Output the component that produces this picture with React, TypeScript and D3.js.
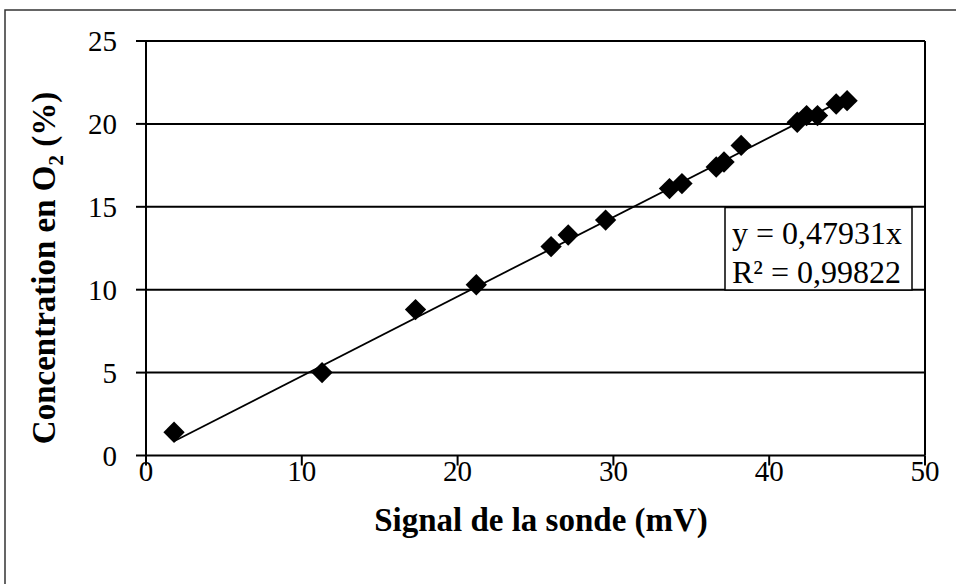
import React from "react";
import * as d3 from "d3";

const signal = [1.8, 11.3, 17.3, 21.2, 26.0, 27.1, 29.5, 33.6, 34.4, 36.6, 37.1, 38.2, 41.8, 42.4, 43.1, 44.3, 45.0];
const oxygen = [1.4, 5.0, 8.8, 10.3, 12.6, 13.3, 14.2, 16.1, 16.4, 17.4, 17.7, 18.7, 20.1, 20.5, 20.5, 21.2, 21.4];
const xTicks = [0, 10, 20, 30, 40, 50];
const yTicks = [0, 5, 10, 15, 20, 25];
const slope = 0.47931;
const eqLines = ["y = 0,47931x", "R² = 0,99822"];

export default function App() {
  const W = 956, H = 584;
  const x = d3.scaleLinear().domain([0, 50]).range([146, 925]);
  const y = d3.scaleLinear().domain([0, 25]).range([455.5, 41]);
  const font = "'Liberation Serif', 'Times New Roman', serif";
  const xmin = d3.min(signal) as number;
  const xmax = d3.max(signal) as number;
  const line = d3.line<number>().x((d) => x(d)).y((d) => y(slope * d));
  const diamond = d3.symbol().type(d3.symbolDiamond2).size(290)();
  return (
    <svg width={W} height={H} style={{ position: "absolute", left: 0, top: 0, background: "#fff" }}>
      <rect x={0} y={0} width={W} height={H} fill="#fff" />
      <rect x={5} y={10} width={1200} height={1200} fill="none" stroke="#333" strokeWidth={1.5} />
      {yTicks.filter((t) => t > 0).map((t) => (
        <line key={"g" + t} x1={x(0)} x2={x(50)} y1={y(t)} y2={y(t)} stroke="#000" strokeWidth={2} />
      ))}
      <line x1={x(50)} x2={x(50)} y1={y(25)} y2={y(0)} stroke="#000" strokeWidth={2} />
      <line x1={x(0)} x2={x(0)} y1={y(25)} y2={y(0)} stroke="#000" strokeWidth={2} />
      <line x1={x(0)} x2={x(50)} y1={y(0)} y2={y(0)} stroke="#000" strokeWidth={2} />
      {yTicks.map((t) => (
        <g key={"yt" + t}>
          <line x1={x(0) - 10} x2={x(0)} y1={y(t)} y2={y(t)} stroke="#000" strokeWidth={2} />
          <text x={117} y={y(t) + 10} textAnchor="end" fontFamily={font} fontSize={29} fill="#000">{t}</text>
        </g>
      ))}
      {xTicks.map((t) => (
        <g key={"xt" + t}>
          <line x1={x(t)} x2={x(t)} y1={y(0)} y2={y(0) + 10} stroke="#000" strokeWidth={2} />
          <text x={x(t)} y={481} textAnchor="middle" fontFamily={font} fontSize={29} fill="#000">{t}</text>
        </g>
      ))}
      <path d={line([xmin, xmax]) || ""} stroke="#000" strokeWidth={1.8} fill="none" />
      {signal.map((s, i) => (
        <path key={"p" + i} d={diamond || ""} transform={`translate(${x(s)},${y(oxygen[i])})`} fill="#000" />
      ))}
      <rect x={725} y={207.5} width={187} height={82.5} fill="#fff" stroke="#000" strokeWidth={1.5} />
      <text x={732} y={244} fontFamily={font} fontSize={32} fill="#000">{eqLines[0]}</text>
      <text x={732} y={283} fontFamily={font} fontSize={32} fill="#000">{eqLines[1]}</text>
      <text x={541} y={531} textAnchor="middle" fontFamily={font} fontSize={33} fontWeight="bold" fill="#000">
        Signal de la sonde (mV)
      </text>
      <text transform="translate(55,268) rotate(-90)" textAnchor="middle" fontFamily={font} fontSize={33} fontWeight="bold" fill="#000">
        Concentration en O<tspan fontSize={21} dy={8}>2</tspan><tspan dy={-8}> (%)</tspan>
      </text>
    </svg>
  );
}
